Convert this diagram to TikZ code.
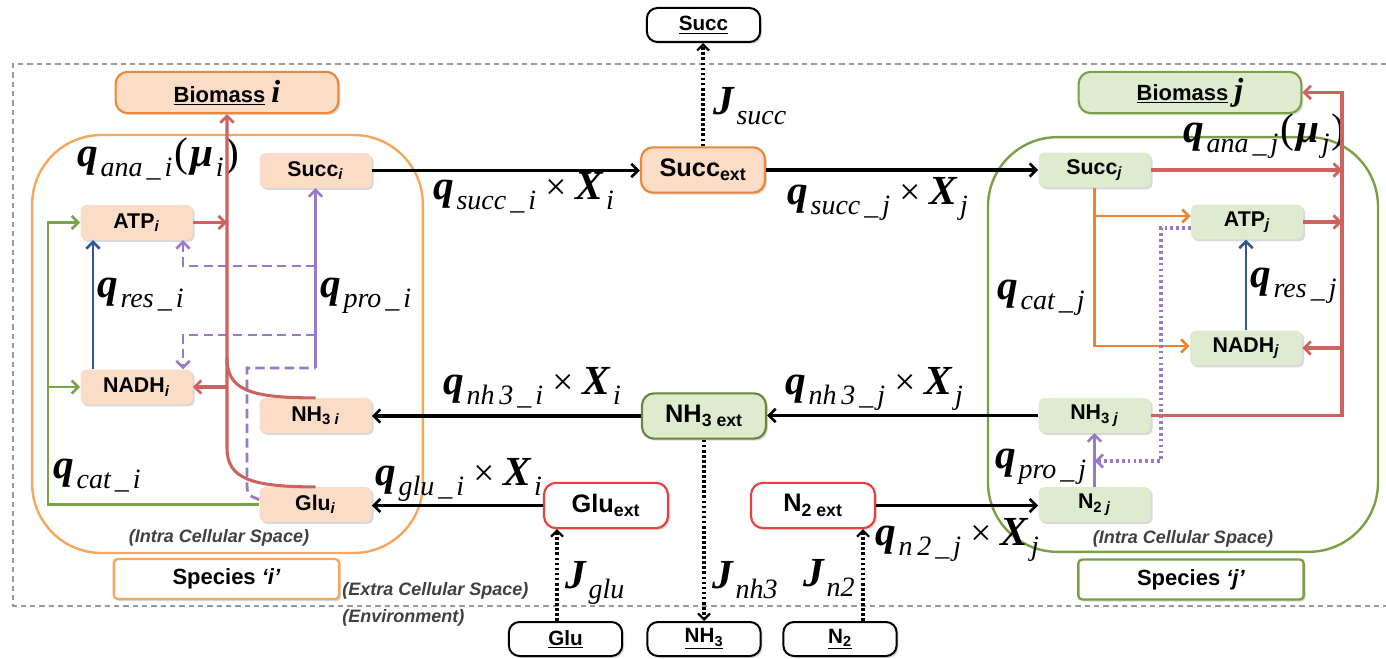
\documentclass[tikz,border=0pt]{standalone}
\usepackage{fontspec}
\setmainfont{Liberation Sans}
\newfontfamily\tms{Liberation Serif}
\usetikzlibrary{arrows.meta,calc,shadows}

\definecolor{orgB}{RGB}{233,135,58}
\definecolor{orgC}{RGB}{245,168,92}
\definecolor{peach}{RGB}{251,221,199}
\definecolor{grnB}{RGB}{122,160,70}
\definecolor{grnD}{RGB}{104,134,62}
\definecolor{mint}{RGB}{223,235,207}
\definecolor{redL}{RGB}{206,98,94}
\definecolor{redB}{RGB}{232,62,62}
\definecolor{bluL}{RGB}{48,88,150}
\definecolor{purL}{RGB}{152,122,198}
\definecolor{grnL}{RGB}{118,166,72}
\definecolor{orgL}{RGB}{238,132,48}
\definecolor{txtG}{RGB}{64,64,64}

% rate symbols: bold italic main letter, italic subscript
\newcommand\Qm[1]{{\tms\fontsize{31}{31}\selectfont\bfseries\itshape #1}}
\newcommand\Qs[1]{\kern2pt\raisebox{-7.5pt}{\tms\fontsize{21}{21}\selectfont\itshape #1}}
\newcommand\Qu{\kern3pt\_\kern3pt}
\newcommand\Qp[1]{{\tms\fontsize{31}{31}\selectfont\kern1.5pt #1\kern1.5pt}}
\newcommand\Qx{{\tms\fontsize{28}{28}\selectfont\ ×\ }}

\tikzset{
  box/.style={rectangle, inner sep=0pt, align=center},
  shade/.style={drop shadow={shadow xshift=1.5pt,shadow yshift=-1.5pt,opacity=0.15,fill=black}},
  inner/.style={box, rounded corners=4pt, fill=#1, shade,
    minimum width=84pt, minimum height=26pt, font=\fontsize{16}{16}\selectfont\bfseries},
  extbox/.style={box, rounded corners=9pt, draw=#1, line width=1.6pt, shade,
    minimum width=93pt, minimum height=34pt, font=\fontsize{19}{19}\selectfont\bfseries},
  envbox/.style={box, rounded corners=8pt, draw=black, line width=1.5pt, fill=white, shade,
    minimum width=85pt, minimum height=25.5pt, font=\fontsize{15.5}{15.5}\selectfont\bfseries},
  biobox/.style={box, rounded corners=9pt, draw=#1, line width=1.6pt, shade,
    minimum width=167pt, minimum height=31pt, font=\fontsize{16.5}{16.5}\selectfont\bfseries},
  specbox/.style={box, rounded corners=3pt, draw=#1, line width=1.8pt, fill=white, shade,
    minimum width=169pt, minimum height=30pt, font=\fontsize{16.5}{16.5}\selectfont\bfseries},
  cell/.style={box, rounded corners=52pt, draw=#1, line width=1.8pt},
  spacetxt/.style={font=\fontsize{13.5}{13.5}\selectfont\bfseries\itshape, text=txtG, inner sep=0pt},
  lab/.style={inner sep=0pt, anchor=base west},
  tip/.style={-{Straight Barb[length=5pt,width=10pt,line width=2pt]}},
  blk/.style={line width=2.4pt, black, tip},
  dots/.style={line width=2.6pt, black, dash pattern=on 2pt off 1.8pt,
    -{Straight Barb[length=4.5pt,width=9pt,line width=1.6pt]}},
  rline/.style={line width=2.3pt, draw=redL},
  gline/.style={line width=2.1pt, draw=grnL},
  bline/.style={line width=2.1pt, draw=bluL},
  pline/.style={line width=2.1pt, draw=purL},
  oline/.style={line width=2.1pt, draw=orgL},
  pdash/.style={dash pattern=on 7pt off 4pt},
  pdot/.style={line width=2.4pt, dash pattern=on 2pt off 2.4pt},
}

\begin{document}
\begin{tikzpicture}[x=0.75pt,y=-0.75pt]
\useasboundingbox (0,0) rectangle (1386,659);

% environment boundary
\draw[gray!80, line width=0.8pt, dash pattern=on 4pt off 3pt]
  (1386,64) -- (13,64) -- (13,606) -- (1386,606);

% cells
\node[cell=orgC, minimum width=293pt, minimum height=313.5pt] (celli) at (227.5,344) {};
\node[cell=grnB, minimum width=292.5pt, minimum height=311pt] (cellj) at (1183,344.5) {};

% rate labels
\node[lab] (Lanai) at (77,167) {\Qm{q}\Qs{ana\Qu i}\Qp{(}\Qm{μ}\Qs{i}\Qp{)}};
\node[lab] (Lresi) at (97,298) {\Qm{q}\Qs{res\Qu i}};
\node[lab] (Lproi) at (320,298) {\Qm{q}\Qs{pro\Qu i}};
\node[lab] (Lcati) at (53,478) {\Qm{q}\Qs{cat\Qu i}};
\node[lab] (Lsucci) at (433,200) {\Qm{q}\Qs{succ\Qu i}\Qx\Qm{X}\Qs{i}};
\node[lab] (Lsuccj) at (787,205) {\Qm{q}\Qs{succ\Qu j}\Qx\Qm{X}\Qs{j}};
\node[lab] (Lnhi) at (443,395) {\Qm{q}\Qs{nh\,3\Qu i}\Qx\Qm{X}\Qs{i}};
\node[lab] (Lnhj) at (785,395) {\Qm{q}\Qs{nh\,3\Qu j}\Qx\Qm{X}\Qs{j}};
\node[lab] (Lglui) at (375,485) {\Qm{q}\Qs{glu\Qu i}\Qx\Qm{X}\Qs{i}};
\node[lab] (Ln2j) at (875,545) {\Qm{q}\Qs{n\,2\Qu j}\Qx\Qm{X}\Qs{j}};
\node[lab] (Jsucc) at (713,115) {\Qm{J}\Qs{succ}};
\node[lab] (Jglu) at (565,588) {\Qm{J}\Qs{glu}};
\node[lab] (Jnh) at (712,588) {\Qm{J}\Qs{nh3}};
\node[lab] (Jn) at (803,586) {\Qm{J}\Qs{n2}};
\node[lab] (Lanaj) at (1183,143) {\Qm{q}\Qs{ana\Qu j}\Qp{(}\Qm{μ}\Qs{j}\Qp{)}};
\node[lab] (Lcatj) at (997,300) {\Qm{q}\Qs{cat\Qu j}};
\node[lab] (Lresj) at (1250,288) {\Qm{q}\Qs{res\Qu j}};
\node[lab] (Lproj) at (995,468) {\Qm{q}\Qs{pro\Qu j}};

% space captions
\node[spacetxt] (intrai) at (219,538) {(Intra Cellular Space)};
\node[spacetxt] (intraj) at (1183,539) {(Intra Cellular Space)};
\node[spacetxt, anchor=west] (extra) at (342,591) {(Extra Cellular Space)};
\node[spacetxt, anchor=west] (envtxt) at (342,618) {(Environment)};

% species i
\node[biobox=orgB, fill=peach] (Biomi) at (227,92.5)
  {\underline{Biomass}\ {\tms\fontsize{24}{24}\selectfont\bfseries\itshape i}};
\node[inner=peach] (Succi) at (315.5,170.5) {Succ\textsubscript{\textit{i}}};
\node[inner=peach] (ATPi) at (136.5,222.5) {ATP\textsubscript{\textit{i}}};
\node[inner=peach] (NADHi) at (136.5,387) {NADH\textsubscript{\textit{i}}};
\node[inner=peach] (NHi) at (315.5,415.5) {NH\textsubscript{3 \textit{i}}};
\node[inner=peach] (Glui) at (315.5,504.5) {Glu\textsubscript{\textit{i}}};
\node[specbox=orgC] (Speci) at (226.5,579) {Species \textit{‘i’}};

% species j
\node[biobox=grnB, fill=mint] (Biomj) at (1190,92.5)
  {\underline{Biomass}\ {\tms\fontsize{24}{24}\selectfont\bfseries\itshape j}};
\node[inner=mint] (Succj) at (1094.5,170) {Succ\textsubscript{\textit{j}}};
\node[inner=mint] (ATPj) at (1247,222) {ATP\textsubscript{\textit{j}}};
\node[inner=mint] (NADHj) at (1246,348) {NADH\textsubscript{\textit{j}}};
\node[inner=mint] (NHj) at (1094.5,415.5) {NH\textsubscript{3 \textit{j}}};
\node[inner=mint] (N2j) at (1094.5,504.5) {N\textsubscript{2 \textit{j}}};
\node[specbox=grnB] (Specj) at (1191,579.5) {Species \textit{‘j’}};

% extracellular pools
\node[extbox=orgB, fill=peach] (Succext) at (703,170) {Succ\textsubscript{ext}};
\node[extbox=grnD, fill=mint] (NHext) at (704,416) {NH\textsubscript{3 ext}};
\node[extbox=redB, fill=white] (Gluext) at (606,505.5) {Glu\textsubscript{ext}};
\node[extbox=redB, fill=white] (N2ext) at (813,505.5) {N\textsubscript{2 ext}};

% environment reservoirs
\node[envbox] (Succ) at (703.5,25) {\underline{Succ}};
\node[envbox] (Glu) at (565.5,639) {\underline{Glu}};
\node[envbox] (NH) at (704,639) {\underline{NH\textsubscript{3}}};
\node[envbox] (N2) at (840,639) {\underline{N\textsubscript{2}}};

% exchange fluxes
\draw[blk] (Succi.east) -- (Succi.east -| Succext.west);
\draw[blk] (Succext.east) -- (Succext.east -| Succj.west);
\draw[blk] (NHj.west) -- (NHj.west -| NHext.east);
\draw[blk] (NHext.west) -- (NHext.west -| NHi.east);
\draw[blk] (Gluext.west) -- (Gluext.west -| Glui.east);
\draw[blk] (N2ext.east) -- (N2ext.east -| N2j.west);

% environment fluxes
\draw[dots] (Succext.north) -- (Succext.north |- Succ.south);
\draw[dots] ($(Glu.north)+(-8.5,0)$) -- ($(Gluext.south)+(-49,0)$);
\draw[dots] (NHext.south) -- (NHext.south |- NH.north);
\draw[dots] ($(N2.north)+(23,0)$) -- ($(N2ext.south)+(50,0)$);

% species i: catabolism
\coordinate (gx) at (48,504.5);
\draw[gline, tip] (Glui.west) -- (gx) |- (ATPi.west);
\draw[gline, tip] (gx |- NADHi.west) -- (NADHi.west);
% respiration
\draw[bline, tip] ($(NADHi.north)+(-43.5,0)$) -- ($(ATPi.south)+(-43.5,0)$);
% product formation
\coordinate (pj) at (315.5,368);
\draw[pline, pdash] ($(Glui.west)+(0,-5)$) .. controls (247,495) .. (247,480) -- (247,368) -- (pj);
\draw[pline, tip] (pj) -- (Succi.south);
\draw[pline, pdash, tip] (Succi.south |- 0,266) -| ($(ATPi.south)+(46.5,0)$);
\draw[pline, pdash, tip] (Succi.south |- 0,335) -| ($(NADHi.north)+(46.5,0)$);
% anabolism
\draw[rline, tip] (Glui.north) .. controls (250,487) and (227,478) .. (227,448) -- (Biomi.south);
\draw[rline] (NHi.north) .. controls (250,398) and (227,390) .. (227,358);
\draw[rline, tip] (ATPi.east) -- (ATPi.east -| Biomi.south);
\draw[rline, tip] (NADHi.east -| Biomi.south) -- (NADHi.east);

% species j: catabolism
\draw[oline, tip] (Succj.south) |- ($(ATPj.west)+(0,-6)$);
\draw[oline, tip] (Succj.south) |- ($(NADHj.west)+(0,-2)$);
% respiration
\draw[bline, tip] (NADHj.north) -- (NADHj.north |- ATPj.south);
% product formation
\draw[pline, tip] (N2j.north) -- (NHj.south);
\draw[pline, pdot, tip] ($(ATPj.west)+(0,6)$) -| (1161,461) -- (N2j.north |- 0,461);
% anabolism
\coordinate (rv) at (1342,0);
\draw[rline, tip] (NHj.east) -| (rv |- Biomj.east) -- (Biomj.east);
\draw[rline, tip] (Succj.east) -- (Succj.east -| rv);
\draw[rline, tip] (ATPj.east) -- (ATPj.east -| rv);
\draw[rline, tip] (NADHj.east -| rv) -- (NADHj.east);
\end{tikzpicture}
\end{document}
